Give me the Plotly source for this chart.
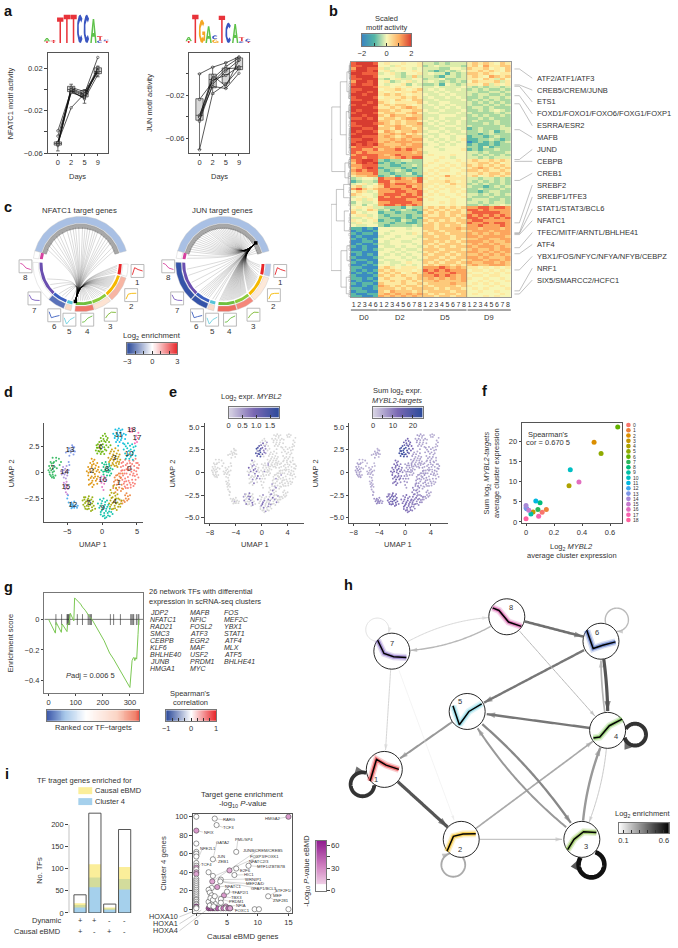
import numpy as np
import plotly.graph_objects as go

W, H = 678, 948
FONT = "Liberation Sans"
INK = "#333333"

# ---------------- panel a
DAYS = ["0", "2", "5", "9"]
NFATC1_LINES = [[-0.052,-0.001,-0.006,0.019],[-0.050,0.001,-0.004,0.016],[-0.053,-0.002,-0.008,0.020],
                [-0.051,0.002,-0.002,0.017],[-0.039,-0.001,-0.009,0.014],[-0.052,0.000,-0.005,0.021],
                [-0.044,-0.003,-0.007,0.018],[-0.050,-0.0172,-0.004,0.0303]]
NFATC1_Q1 = [-0.0525,-0.002,-0.007,0.015]
NFATC1_MED = [-0.051,0.000,-0.004,0.017]
NFATC1_Q3 = [-0.0495,0.003,-0.001,0.0205]
NFATC1_LO = [-0.058,-0.003,-0.013,0.012]
NFATC1_HI = [-0.050,0.005,0.000,0.022]
JUN_LINES = [[-0.0006,0.0055,0.0095,0.015],[-0.043,-0.005,0.006,0.014],[-0.040,-0.012,-0.014,0.000],
             [-0.0385,-0.006,-0.002,0.006],[-0.044,-0.010,0.002,0.012],[-0.070,-0.0185,-0.010,0.004],
             [-0.040,-0.002,-0.012,0.012],[-0.024,-0.008,0.004,0.005]]
JUN_Q1 = [-0.043,-0.0133,-0.009,0.0033]
JUN_MED = [-0.0385,-0.0058,-0.0012,0.006]
JUN_Q3 = [-0.0233,-0.0009,0.0048,0.014]
JUN_LO = [-0.0697,-0.019,-0.014,0.0033]
JUN_HI = [-0.0006,0.0055,0.010,0.0147]
LOGO_NFATC1 = [[("T",.12),("A",.22)],[("T",.10),("T",.10)],[("T",1.75)],[("T",1.95)],[("T",1.95)],
               [("C",1.95)],[("C",1.95)],[("A",1.65)],[("C",.18),("T",.28)],[("T",.14),("C",.1)]]
LOGO_JUN = [[("T",.14),("A",.28)],[("T",1.95)],[("G",1.60)],[("A",1.15)],[("G",.25),("C",.28)],
            [("T",1.88)],[("C",1.40)],[("A",1.30)],[("C",.12),("T",.28)],[("T",.08),("C",.22)]]
LOGO_COLORS = {"A": "#5fc24a", "C": "#3a55c0", "G": "#f5a623", "T": "#e8333a"}

# ---------------- panel b
MOTIF_ROWS = """89998 45445445 33232333 56565465
88999 44354445 23433332 56475566
79988 53445434 33322443 65564546
89989 45344454 32123234 55656546
99888 34532445 34331323 66565455
89998 44432363 33213323 56547656
88999 32453344 23342233 55465364
79989 45234534 34323232 46555635
89889 43445243 22314323 55463545
99998 55454544 33433334 32323323
88999 45565456 34343343 23232232
89989 54545565 33434333 33223323
99899 56565455 43343433 32332232
89998 45556565 34334343 22323323
88999 55465466 33433334 23232322
99989 65455556 43344333 32323232
89899 56566545 34343433 32232323
99998 55656765 33434343 23323222
98999 66565566 43343334 22323432
89998 56655675 34433343 32222323
99899 65766566 33344433 23232232
88989 56656776 34343334 22323222
99999 66565665 43434343 23222322
89998 76565667 34343343 22232322
88999 56676566 33434433 32222232
99889 66576656 43343343 12322233
98998 57656676 34434334 22323123
89999 66767565 43343433 22123222
99888 67656766 34344344 12212322
88998 66767677 43434345 11223212
89988 67677766 44343434 01212123
98989 76667677 34434344 12112122
78887 77676777 44344444 22131222
88778 67787876 44434445 12122322
87877 77777767 34444444 33232223
78888 76787777 45444544 32323232
88788 77678788 44454344 33232333
78998 21223322 44544454 56556565
68989 12121222 45445445 55665645
77888 22112232 54454545 65656565
67898 12221212 44545454 56765656
78788 21232122 45455445 66565565
67778 22122312 54544454 55656656
56677 12312221 45457545 56456565
23443 87787678 54545555 33233232
12332 88677768 45556545 32323232
34534 78788777 55454655 23232232
56345 68777867 54545545 32212323
78656 77887787 45454554 22322232
46534 77788778 54544545 22123322
65443 78887878 45454454 33232323
34543 87878887 54445445 32223222
45354 88888778 45444544 23332232
24334 77888877 44454544 33232332
34243 78878787 44444544 22323343
45453 32221322 56565656 77887887
53465 23123212 65656565 88787777
64344 12212221 56565665 78888877
45534 21222122 65565656 87878787
33454 22112121 56666565 88787878
54345 12213212 65656566 78877777
35443 22122112 56566656 87787887
43344 21222232 66565665 77877787
11010 44444344 66566676 77677767
01001 44344444 56656665 67776777
10110 43444354 65665666 76767677
01000 34434443 66566566 77677776
10101 44344434 56666565 66776677
00110 43443344 66565656 77767667
01001 33444434 65656665 67676766
10100 43343443 56566566 76777676
00101 34434334 66656665 67667677
11000 44343443 56566566 77676767
01010 43434344 65665656 66767676
10001 34443434 56656566 77676667
01100 43344343 66565665 67767767
10010 34334544 65656656 76677676
00101 44343434 56566565 67667776
11000 56545554 77787676 55454545
10101 65655545 87878777 45545454
01010 56564565 78777877 54454545
10001 65656556 77878767 45545544
11010 56555656 67676767 54454454
01001 55656565 66766667 44545445
10110 65556556 56666766 45454544
00101 76565665 65666656 54445454
11001 66656566 66565665 45454445
01100 65766656 56666566 44544544
10011 67676767 65656656 45444454
11001 76767676 66566566 44454544""".split("\n")
SAMPLE_LABELS = ["1","2","3","4","6"] + ["1","2","3","4","5","6","7","8"]*3
MOTIF_NAMES = ["ATF2/ATF1/ATF3","CREB5/CREM/JUNB","ETS1","FOXD1/FOXO1/FOXO6/FOXG1/FOXP1","ESRRA/ESR2","MAFB",
               "JUND","CEBPB","CREB1","SREBF2","SREBF1/TFE3","STAT1/STAT3/BCL6","NFATC1",
               "TFEC/MITF/ARNTL/BHLHE41","ATF4","YBX1/FOS/NFYC/NFYA/NFYB/CEBPZ","NRF1","SIX5/SMARCC2/HCFC1"]
MOTIF_ROW_POS = [2.7,8.8,9.3,12.9,16,25.9,37.3,38,45.3,61.5,65.3,65.6,66,71,73.3,79.5,87.5,88.7]
DEND = [(62,234,560,58,60),(58,136,331,32,18),(32,60,220,12,14),(12,30,90,5,6),(14,150,280,6,5),(5,10,50,1,2),
        (6,75,110,2,1),(6,130,170,2,1),(5,200,260,1,2),(18,305,350,6,8),(6,295,320,2,1),(8,335,370,2,1),
        (60,430,630,44,30),(44,385,480,22,20),(22,370,410,8,6),(20,450,510,6,5),(30,570,680,12,14),
        (12,555,600,3,4),(14,650,700,4,3)]
DEND_LEAF = [3,12,21,28,38,47,58,66,78,86,95,104,118,127,138,147,158,166,178,188,198,207,216,228,238,248,258,268,
             276,288,300,308,316,326,338,346,358,366,378,388,398,408,418,428,440,458,468,478,488,498,506,518,528,
             540,552,562,576,586,596,610,620,632,644,656,668,678,690,702]

# ---------------- panel c
SECTOR_START = [-74,90,107,141,163.6,191.7,201,223,277]
SECTOR_END = [74,105,139,162.6,187,199.5,222,272,286]
SECTOR_COLORS = ["#a8a8a8","#e8262a","#f5b800","#8ccb3c","#6fbf3f","#55c4d8","#3b5fc0","#6a4fb0","#d6409f"]
RING_NFATC1 = ["#a9c0e4","#ffffff","#f7b5a3","#fde3d2","#f0776a","#fbd9c5","#5a72ba","#ffffff","#ffffff"]
RING_JUN = ["#a9c0e4","#b4c8ea","#fde8d8","#f5877a","#ee6d60","#fbdcca","#3553a8","#3553a8","#ffffff"]
NFATC1_TARGETS = [-66,-60,-55,-47,-41,-36,-30,-22,-17,-12,-8,-3,3,7,11,15,20,24,28,35,40,45,50,55,62,68,
                  92,94,97,100,103,108,110,112,114,116,118,120,122,124,126,128,130,133,136,138,
                  143,146,149,152,155,158,161,165,168,171,174,177,180,184,194,205,210,216,228,236,246]
JUN_TARGETS = [-70,-66,-62,-58,-54,-50,-46,-42,-38,-34,-30,-26,-23,-20,-17,-14,-11,-8,-5,-2,1,4,7,10,13,16,19,22,25,28,31,
               34,37,40,43,46,49,52,60,64,68,72,92,95,99,103,108,111,113,115,117,119,121,123,125,127,129,131,133,135,137,
               142,144,146,148,150,152,154,156,158,160,162,164,166,168,170,172,174,176,178,180,182,184,186,193,197,
               203,206,209,212,215,218,221,230,240,252,262,279,284]
ICON_X = [134.7,128.3,107.7,84,66,50.7,30.7,21.7]
ICON_Y = [271.7,296,315.7,320.7,320.7,316.3,299.3,267]

# ---------------- cluster profiles (panels c and h)
PROFILES = {1:[35,-30,-13,0],2:[36,-9,-16,-17],3:[31,0,-23,-21],4:[23,20,-14,-34],5:[-17,40,0,-23],
            6:[-33,22,12,2],7:[-33,7,17,19],8:[-27,-19,16,29]}
PROFILE_TIME = [0,2,5,9]
CLUSTER_COLORS = {1:"#e8262a",2:"#f5b800",3:"#7cb82f",4:"#6bbf3f",5:"#6fd0e0",6:"#3b5fc0",7:"#7a5cc0",8:"#d6409f"}

# ---------------- panels d,e
CLUSTER_HUES = ["#F8766D","#EC8239","#DB8E00","#C79800","#AEA200","#8FAA00","#64B200","#2BB65A","#00BD7C","#00BFA5",
                "#00BFC4","#00B8E0","#3FA8F0","#7C96E8","#A98AD8","#C77CCF","#E26EC0","#F863B0","#FF629F"]
UMAP_0 = [(3.0,1.0,0,6),(3.4,.7,0,5),(3.9,1.1,0,7),(4.3,.8,0,6),(4.8,1.3,0,5),(5.1,.9,0,6),(2.7,.5,0,7),(3.2,.2,0,5),(3.7,.5,0,6),(4.2,.3,0,5),(4.6,.6,0,6),(5.2,.4,0,7),(2.6,-.1,0,6),(3.0,-.3,.4,8),(3.5,-.1,0,5),(4.0,-.2,0,7),(4.5,-.1,0,6),(5.0,-.2,0,5),(2.9,-.7,0,6),(3.3,-.6,0,7),(3.8,-.8,0,5),(4.3,-.7,0,6),(4.8,-.7,0,6),(3.1,-1.1,0,7),(3.6,-1.2,0,5),(4.1,-1.2,0,6),(4.5,-1.3,0,5),(3.4,-1.5,0,6),(2.8,.9,0,5),(4.6,.2,0,7),(3.6,.85,0,6),(4.9,.1,0,6),(3.5,.3,0,5),(4.1,.6,0,6),(3.2,-.9,0,6),(4.4,-1.0,0,5),
           (2.9,.2,0,6),(3.3,1.2,0,5),(3.7,.2,0,7),(4.0,.9,0,5),(4.5,1.1,0,6),(4.9,.9,0,5),(5.3,.7,0,6),(2.7,-.5,0,6),(3.2,-.1,0,7),(3.7,-.45,0,5),(4.2,.05,0,6),(4.7,-.35,0,5),(5.2,-.5,0,6),(3.0,.6,0,6),(3.45,-.85,0,5),(3.95,-1.0,0,6),(4.7,-1.1,0,5),(3.7,-1.5,0,6),(4.1,-1.45,0,5),(5.0,.45,0,6),(2.75,.15,0,7),(4.4,-.3,0,6),(3.85,.3,0,5),(3.25,-1.35,0,6)]
UMAP_1 = [(2.0,-.3,0,7),(2.4,-.1,0,6),(2.2,-.7,.5,8),(1.7,-.9,0,7),(2.5,-.8,0,5),(2.1,-1.2,0,7),(2.8,-1.2,0,6),(1.6,-1.5,0,8),(2.2,-1.7,.6,9),(2.7,-1.8,0,6),(3.0,-1.6,0,5),(1.9,-1.9,0,6),(3.3,-2.2,0,7),(3.7,-2.3,0,6),(4.0,-2.2,0,5),(3.1,-2.7,0,7),(3.6,-2.7,0,6),(2.9,-3.0,0,5),(3.4,-2.5,0,6),(2.5,-.4,0,5),(2.9,-.1,0,6),(1.8,-.5,0,7),
           (2.2,-.25,0,6),(1.9,-.75,0,7),(2.35,-1.0,0,6),(2.65,-.55,0,6),(1.75,-1.2,0,8),(2.45,-1.45,0,6),(2.0,-1.55,.7,8),(2.85,-1.55,0,5),(3.5,-2.0,0,6),(3.8,-2.55,0,5),(3.25,-2.85,0,6),(2.75,-2.75,0,7)]
UMAP_2 = [(-1.5,1.3,.8,12),(-1.1,1.2,0,10),(-1.7,.9,0,11),(-1.2,.8,.5,13),(-.7,.9,0,9),(-2.0,.5,.9,12),(-1.5,.5,0,11),(-1.0,.4,.6,14),(-.5,.5,0,10),(-2.2,.1,0,12),(-1.7,.1,.7,13),(-1.3,.0,0,11),(-.8,.1,.8,12),(-.4,.0,0,9),(-2.0,-.3,.5,13),(-1.5,-.4,0,11),(-1.0,-.4,0,12),(-.6,-.4,.9,10),(-1.9,-.7,0,11),(-1.4,-.8,.6,14),(-.9,-.8,0,12),(-1.7,-1.1,0,10),(-1.2,-1.2,.7,11),(-1.4,-1.4,0,12),(-1.9,-1.2,0,9),(-.7,-1.1,0,8),
           (-1.3,1.05,0,11),(-1.45,.7,.6,13),(-.9,.65,0,10),(-1.8,.3,0,12),(-1.25,.25,.9,14),(-.6,.25,0,9),(-1.95,-.05,0,11),(-1.05,-.15,.7,13),(-1.65,-.55,0,12),(-1.2,-.55,0,11),(-.75,-.65,.6,11),(-1.5,-1.0,0,12)]
UMAP_3 = [(1.4,2.2,0,6),(1.9,2.3,0,5),(2.3,2.1,0,7),(1.1,1.8,0,7),(1.6,1.7,0,6),(2.1,1.8,0,5),(2.5,1.7,0,6),(.9,1.4,0,6),(1.3,1.3,0,7),(1.8,1.3,0,5),(2.2,1.3,0,6),(2.6,1.2,0,5),(1.0,1.0,.4,7),(1.5,.9,0,6),(2.0,.9,0,5),(2.4,.8,0,6),(1.3,.65,0,6),(1.8,.6,0,5),(2.2,.5,0,7),(1.7,2.0,0,6),
           (1.25,2.0,0,6),(1.45,1.5,0,6),(1.95,1.55,0,5),(2.35,1.5,0,6),(1.15,1.15,0,6),(1.65,1.1,0,5),(2.2,1.05,0,6),(1.6,.75,0,6),(2.05,.65,0,5),(2.45,1.0,0,6)]
UMAP_4 = [(1.6,-1.3,.5,8),(2.0,-1.5,0,7),(1.2,-1.7,0,9),(1.7,-2.0,.7,10),(2.2,-2.1,0,8),(1.1,-2.2,0,9),(1.5,-2.4,.8,11),(2.0,-2.5,0,8),(2.5,-2.6,.6,9),(1.2,-2.7,0,10),(1.7,-2.8,.9,12),(2.2,-2.9,0,9),(2.7,-3.0,0,7),(1.3,-3.1,.5,11),(1.8,-3.2,0,9),(2.3,-3.3,.7,10),(1.6,-3.5,0,9),(2.1,-3.6,0,8),(2.8,-2.7,0,7),(1.0,-3.0,.8,12),(2.6,-3.3,0,8),(1.4,-3.55,.6,10),
           (1.35,-1.95,0,9),(1.9,-2.25,0,9),(1.35,-2.45,.6,10),(1.85,-2.6,0,9),(2.3,-2.5,0,8),(1.5,-2.95,0,10),(2.0,-3.0,.6,10),(2.45,-3.05,0,8),(1.15,-3.3,0,10),(1.85,-3.45,0,9)]
UMAP_5 = [(-2.4,-2.4,0,10),(-1.9,-2.3,.8,13),(-1.4,-2.4,0,11),(-2.8,-2.7,.5,12),(-2.3,-2.8,0,14),(-1.8,-2.7,.9,15),(-1.3,-2.8,0,12),(-2.7,-3.1,.7,11),(-2.2,-3.2,0,14),(-1.7,-3.1,.6,16),(-1.2,-3.2,0,13),(-2.4,-3.5,.8,12),(-1.9,-3.5,0,14),(-1.4,-3.6,.7,13),(-1.0,-3.5,0,10),(-2.0,-2.5,0,12),(-1.6,-3.7,0,12),(-2.6,-2.4,.5,9),
           (-2.55,-2.6,0,11),(-2.1,-2.65,.7,14),(-1.55,-2.6,0,13),(-2.45,-2.95,0,13),(-1.95,-2.95,1.1,17),(-1.45,-3.0,0,13),(-2.5,-3.3,0,11),(-1.95,-3.25,0,14),(-1.45,-3.35,.9,14),(-2.15,-3.55,0,13)]
UMAP_6 = [(.4,3.7,0,13),(.8,3.3,.5,14),(.2,3.2,.9,15),(-.2,3.3,0,14),(.5,2.9,.6,17),(1.0,2.9,0,12),(-.4,2.9,1.2,18),(.1,2.7,.9,20),(-.8,2.6,1.5,19),(-.3,2.4,1.4,22),(.3,2.4,.7,18),(.9,2.4,0,13),(-.9,2.1,1.3,21),(-.4,2.0,1.6,23),(.1,2.0,1.1,20),(.6,2.1,.5,15),(-.7,1.8,1.0,19),(-.2,1.75,1.4,21),(.3,1.75,0,16),(1.2,2.6,0,12),(-.6,2.35,1.1,20),(.7,3.1,0,13),
           (.1,3.5,0,14),(.55,3.45,0,13),(-.1,3.0,1.0,17),(.3,3.0,0,15),(-.6,2.7,1.3,20),(-.15,2.6,1.2,21),(.6,2.6,.6,16),(-.75,2.35,0,20),(-.2,2.2,1.5,22),(.4,2.2,.8,17),(-.55,2.05,1.2,21),(-.1,1.95,0,19)]
UMAP_7 = [(-7.1,1.4,0,5),(-6.6,1.4,0,4),(-6.2,1.3,0,5),(-5.9,1.0,0,3),(-7.4,1.0,0,6),(-6.9,1.0,0,7),(-7.6,.6,0,7),(-7.2,.6,0,6),(-6.8,.5,0,5),(-7.7,.2,0,6),(-7.3,.2,0,7),(-6.9,.1,0,5),(-6.5,.4,0,4),(-7.5,-.2,0,5),(-7.1,-.2,0,6),(-6.7,-.3,0,4),(-7.2,-.5,0,5),(-6.9,-.55,0,6),(-7.0,.9,0,5),(-6.1,.7,0,3),
           (-7.25,.85,0,6),(-7.45,.4,0,7),(-7.05,.35,0,6),(-7.55,.0,0,6),(-7.1,.0,0,5),(-7.35,-.35,0,6),(-6.6,1.1,0,4),(-7.0,-.4,0,5)]
UMAP_8 = [(.0,.9,0,6),(.5,1.0,0,7),(1.0,.8,.5,8),(.2,.5,0,6),(.7,.5,0,7),(1.2,.4,0,5),(1.5,.3,0,6),(-.1,.2,0,7),(.4,.1,.6,8),(.9,.0,0,6),(1.3,-.1,0,6),(.2,-.2,0,7),(.7,-.3,0,6),(1.1,-.3,0,5),(.3,.75,0,7),(.9,.25,0,6),
           (.6,.75,0,7),(.45,.3,0,7),(1.05,.6,0,6),(.15,.05,0,7),(.65,.05,0,6),(1.1,.15,0,6)]
UMAP_9 = [(-.3,-2.6,0,9),(.2,-2.5,.6,12),(.7,-2.7,0,10),(-.6,-3.0,.8,11),(-.1,-3.0,0,12),(.4,-3.1,.7,13),(.9,-3.1,0,10),(-.4,-3.4,0,11),(.1,-3.5,.9,14),(.6,-3.5,0,12),(1.1,-3.5,.5,10),(-.2,-3.8,0,12),(.3,-3.9,.7,13),(.8,-3.9,0,11),(1.3,-3.8,0,9),(.1,-4.2,0,11),(.6,-4.3,.6,12),(1.1,-4.2,0,10),(1.5,-4.0,0,9),(.4,-4.4,0,10),
           (.0,-2.75,0,11),(.45,-2.85,0,11),(-.25,-3.2,0,11),(.2,-3.3,.8,13),(.75,-3.3,0,11),(-.05,-3.65,.7,13),(.55,-3.7,0,12),(1.0,-3.75,.6,11),(.3,-4.15,0,12),(.85,-4.15,0,11),(-.2,-4.05,0,11)]
UMAP_10 = [(3.2,2.7,0,7),(3.7,2.8,0,6),(4.3,2.7,0,5),(4.8,2.5,0,6),(3.1,2.2,0,6),(3.6,2.3,0,7),(4.1,2.2,0,6),(4.6,2.1,0,5),(3.3,1.8,0,5),(3.8,1.7,0,6),(4.3,1.7,0,7),(4.8,1.6,0,5),(3.4,1.3,0,6),(3.9,1.3,0,5),(4.4,1.2,0,6),
            (3.4,2.5,0,6),(4.0,2.55,0,6),(4.5,2.4,0,5),(3.85,2.05,0,6),(4.4,1.95,0,6),(3.55,1.55,0,6),(4.1,1.5,0,6)]
UMAP_11 = [(1.9,4.1,0,7),(2.4,4.2,0,6),(2.9,4.1,0,5),(1.6,3.7,0,6),(2.1,3.7,0,7),(2.6,3.8,0,5),(3.1,3.7,0,6),(1.8,3.3,0,7),(2.3,3.3,0,6),(2.8,3.3,0,5),(3.3,3.2,0,5),(2.0,2.9,0,6),(2.5,2.9,0,5),(3.0,2.8,0,6),(2.3,2.55,0,6),(3.4,3.6,0,4),
            (2.2,4.0,0,6),(2.65,4.0,0,5),(1.85,3.5,0,7),(2.35,3.55,0,6),(2.85,3.55,0,6),(2.2,3.1,0,6),(2.7,3.1,0,5)]
UMAP_12 = [(-5.0,-2.5,0,7),(-4.8,-2.9,0,8),(-4.4,-2.9,0,9),(-4.0,-2.8,0,8),(-4.6,-3.2,0,9),(-4.2,-3.2,.4,10),(-3.8,-3.1,0,8),(-3.5,-3.2,0,7),(-4.4,-3.45,0,9),(-4.0,-3.4,0,8),(-4.9,-2.2,0,6),(-3.6,-3.4,0,7),(-4.2,-3.05,0,9),(-4.5,-3.05,0,8),(-3.95,-3.25,0,8),(-4.25,-3.35,0,8)]
UMAP_13 = [(-4.3,2.6,0,4),(-4.0,2.4,0,5),(-4.7,2.3,0,5),(-4.3,2.2,0,6),(-3.9,2.0,0,4),(-4.9,2.0,0,5),(-4.5,1.9,0,5),(-5.2,1.9,0,4),(-4.1,1.7,0,4),(-4.7,1.6,0,5),(-4.8,1.0,0,3),(-4.7,.7,0,3),(-4.2,2.45,0,5),(-4.55,2.1,0,5),(-4.15,2.05,0,5)]
UMAP_14 = [(-5.6,.5,0,4),(-5.1,.6,0,5),(-5.9,.1,0,4),(-5.5,.2,0,5),(-5.1,.1,0,6),(-4.8,.2,0,4),(-5.8,-.2,0,5),(-5.4,-.2,0,5),(-5.0,-.3,0,4),(-5.5,-.5,0,4),(-5.2,-.6,0,5),(-5.3,.35,0,5),(-5.65,-.05,0,4),(-5.25,-.05,0,5)]
UMAP_15 = [(-5.5,-1.0,0,4),(-5.1,-.9,0,5),(-5.4,-1.3,0,5),(-5.0,-1.3,0,4),(-5.3,-1.6,0,6),(-4.9,-1.6,0,5),(-5.2,-1.9,0,5),(-5.0,-2.1,0,4),(-5.25,-1.15,0,5),(-5.15,-1.45,0,5)]
UMAP_16 = [(-.1,-.4,0,8),(.3,-.4,0,7),(-.3,-.7,.5,9),(.1,-.7,0,8),(.5,-.7,0,7),(-.1,-1.0,0,8),(.3,-1.1,0,7),(.0,-1.4,0,7),(.2,-1.7,0,6)]
UMAP_17 = [(5.2,3.8,0,5),(4.9,3.5,0,5),(5.1,3.3,0,6),(4.8,3.1,0,4),(5.0,2.9,0,5),(4.7,2.8,0,4)]
UMAP_18 = [(3.9,4.1,0,5),(4.2,4.2,0,4),(4.5,4.1,0,5),(4.0,3.9,0,4),(4.3,3.9,0,5)]
UMAP_ALL = [UMAP_0,UMAP_1,UMAP_2,UMAP_3,UMAP_4,UMAP_5,UMAP_6,UMAP_7,UMAP_8,UMAP_9,UMAP_10,UMAP_11,UMAP_12,UMAP_13,UMAP_14,UMAP_15,UMAP_16,UMAP_17,UMAP_18]
UMAP_LABEL_X = [3.9,2.4,-1.5,1.75,1.8,-1.9,-.2,-7.1,.7,.1,3.9,2.4,-4.2,-4.6,-5.4,-5.2,.1,5.0,4.2]
UMAP_LABEL_Y = [.3,-1.0,.1,1.35,-2.8,-2.9,2.4,.4,.35,-3.4,1.8,3.6,-3.1,2.1,0,-1.4,-.7,3.3,4.05]

# ---------------- panel f
F_X = [.115,.145,.486,.05,.307,.536,.655,.085,.10,.035,.316,.07,.005,.0,.0,.02,.378,.09,.0]
F_Y = [2.4,3.1,19.8,2.5,9.0,17.0,23.6,3.1,4.8,2.0,13.0,5.2,3.3,3.5,4.1,2.9,9.9,1.4,.8]

# ---------------- panel g
G_RANK = [0,25,28,47,50,68,70,75,80,93,96,110,118,125,135,150,160,205,225,240,300,308,313,316,318,322,325,330,333]
G_ES = [0,-.09,-.02,-.085,-.03,-.08,-.03,-.03,.04,-.01,.14,.115,.10,.08,.06,.02,0,-.14,-.22,-.26,-.445,-.27,-.25,-.25,-.27,-.25,-.26,-.10,0]
G_HITS = [27,48,68,70,73,75,78,106,125,146,150,155,158,228,240,265,303,307,311,314,324,330,333]
G_TF_1 = ["JDP2","NFATC1","RAD21","SMC3","CEBPB","KLF6","BHLHE40","JUNB","HMGA1"]
G_TF_2 = ["MAFB","NFIC","FOSL2","ATF3","EGR2","MAF","USF2","PRDM1","MYC"]
G_TF_3 = ["FOS","MEF2C","YBX1","STAT1","ATF4","MLX","ATF5","BHLHE41"]

# ---------------- panel h
NODE_X = {1:383.7,2:461.3,3:583,4:609,5:467.3,6:602.3,7:391.3,8:507.3}
NODE_Y = {1:773.3,2:843.7,3:843.7,4:734,5:715,6:644.3,7:654.3,8:619.7}
NODE_TEXT_DX = {1:-8,2:-1,3:4,4:8,5:-7,6:-4,7:0,8:4}
NODE_TEXT_DY = {1:10,2:10,3:7,4:6,5:-10,6:-9,7:-8,8:-9}
EDGES = [(7,8,.15,1.0,"#d8d8d8"),(8,7,.15,1.4,"#b8b8b8"),(8,6,0,2.6,"#707070"),(6,5,0,2.4,"#777777"),(6,4,.05,3.2,"#555555"),
         (4,6,.05,1.7,"#b5b5b5"),(8,4,0,1.0,"#b8b8b8"),(4,5,0,2.4,"#777777"),(5,1,0,2,"#999999"),(7,1,0,1.0,"#d5d5d5"),
         (7,2,0,.5,"#e8e8e8"),(1,2,0,3.2,"#555555"),(2,4,0,1.7,"#aaaaaa"),(2,3,0,1.4,"#c5c5c5"),(3,4,.1,2.4,"#999999"),
         (4,3,.1,1.0,"#c8c8c8"),(5,3,.08,2.3,"#888888"),(3,5,.1,2,"#999999")]
LOOPS = [(7,376.7,632.7,11.7,.9,"#dddddd"),(6,618.3,622.7,11.7,1.4,"#bbbbbb"),(4,636.7,738.3,11,4,"#333333"),
         (1,361.7,788.3,12,3.8,"#333333"),(2,453.3,869.3,12,1.9,"#aaaaaa"),(3,592.7,869,13,4.6,"#111111")]

# ---------------- panel i
BAR_TOTAL = [41,226,20,189]
BAR_CAUSAL = [22,110,12,104]
BAR_OVERLAP = [18,80,10,77]
BAR_CLUSTER4 = [12,58,7,53]
SIGN_DYNAMIC = ["+","+","-","-"]
SIGN_CAUSAL = ["+","-","+","-"]
SC_X = [0,0,0,0,0,0,0,0,0,0,0,0,0,0,0,0,0,0,0,0,0,0,0,0,0,0,0,0,0,0,0, 15,3,3.3,6.5,2.7,2,2.7,2.6,5.4,6.5,6.2,8.5,4,3.9,3.4,2.5,2,2.2,2.5,4.5,5,4,2,3,4,4.8,5.5,9.5,10.2,15,11.7, 2,2.3,2.6,2.9,3.2,3.5,4,4.4,4.8,5.2,5.5,2.3,2.7,3,2.5,2.2,2.8]
SC_Y = [100,85,71,62,60,57,50,47,45,43,40,38,33,31,29,27,25,23,21,19,17,15,13,11,10,8,6,5,3,2,1, 100,98,91,62,54,40,36,30,42,44,37,47,32,30,24,23,21,18,15,15,19,11,8,6,7,3,1,0,0,0,14, 1,1,1,1,1,1,1,1,1,1,1,12,10,14,5,4,3]
SC_P = [0,25,0,0,0,0,0,0,22,0,20,22,0,0,0,0,0,0,0,0,0,0,0,0,0,0,0,0,55,0,0, 25,0,0,0,0,0,0,22,20,0,0,0,0,0,25,0,0,0,0,25,0,0,0,0,0,20,22,0,0,0,0, 45,50,30,55,0,45,0,35,0,40,22,0,0,0,0,0,0]
SC_NAMES = ["RARG","TCF3","NFIX","HMGA2","GATA2","NFE2L1","PML/SP4","JUNB/CREM/CREB5","JUN","ZEB1","FOXP3/FOXK1","NFATC2/3",
            "MTF1/ZBTB7B","TCF4","E2F6","HIC1","WRNIP1","MEF2A/D","GFAP1/BCL3","NFATC1","TFAP2/1","STF2F1/","MEF","ZNF281","TBX3","PRDM1","NFIA","FOXC1"]
SC_NAME_X = [232,231,170,363,212,168,276,335,208,213,337,321,357,162,282,293,305,311,337,242,266,396,378,387,255,255,268,272]
SC_NAME_Y = [297,320,334,293,367,385,357,390,409,422,409,423,439,431,449,463,476,490,504,497,517,512,525,540,532,545,556,570]
SC_NAME_PX = [3,3.3,0,15,2.7,0,6.5,2.6,2.7,2.7,3,8.5,8.5,0,6.5,6.2,4,3.9,3.9,3.4,5,11.7,11.7,11.7,2.5,4,4.8,5.5]
SC_NAME_PY = [98,91,85,100,54,50,62,30,54,54,36,47,47,40,44,37,32,30,30,24,19,14,14,14,15,11,3,1]

# ================================ layout helpers
fig = go.Figure()
layout = dict(width=W, height=H, margin=dict(l=0, r=0, t=0, b=0), paper_bgcolor="white", plot_bgcolor="rgba(0,0,0,0)",
              showlegend=False, font=dict(family=FONT, size=8, color=INK), annotations=[], hovermode=False)
axis_no = [0]

def new_axes(x0, y0, x1, y1, xr, yr, xa=None, ya=None):
    axis_no[0] += 1
    n = axis_no[0]
    sx = "" if n == 1 else str(n)
    base = dict(showgrid=False, zeroline=False, showline=False, showticklabels=False, ticks="", fixedrange=True,
                tickfont=dict(size=7.5, color=INK, family=FONT), tickcolor="#444", ticklen=2.5, tickwidth=.6, linecolor="#555", linewidth=.8,
                tickangle=0)
    xd = dict(base); xd.update(domain=[x0/W, x1/W], range=xr, anchor="y"+sx); xd.update(xa or {})
    yd = dict(base); yd.update(domain=[1-y1/H, 1-y0/H], range=yr, anchor="x"+sx); yd.update(ya or {})
    layout["xaxis"+sx] = xd
    layout["yaxis"+sx] = yd
    return "x"+sx, "y"+sx

def T(x, y, text, size=7.5, color=INK, anchor="center", rot=0, bold=False):
    layout["annotations"].append(dict(x=x/W, y=1-y/H, xref="paper", yref="paper", text=text, showarrow=False,
        xanchor=anchor, yanchor="middle", textangle=rot, align=anchor,
        font=dict(family=FONT, size=size, color=color, weight="bold" if bold else "normal"), borderpad=0, borderwidth=0))

def tick(vals, texts=None, where="outside", tlen=2.5, tcol="#444"):
    texts = texts if texts else [str(v) for v in vals]
    major = [(v, t) for v, t in zip(vals, texts) if t]
    minor = [v for v, t in zip(vals, texts) if not t]
    d = dict(showticklabels=True, ticks=where, ticklen=tlen, tickcolor=tcol, tickmode="array",
             tickvals=[m[0] for m in major], ticktext=[m[1] for m in major])
    if minor:
        d["minor"] = dict(tickmode="array", tickvals=minor, ticks=where, ticklen=tlen, tickcolor=tcol, tickwidth=.6, showgrid=False)
    return d

def frame(col="#555"):
    return dict(showline=True, mirror=True, linecolor=col, linewidth=.9)

def cbar(x0, y0, x1, y1, scale, vmin, vmax, vals, texts, vertical=False):
    grad = np.linspace(vmin, vmax, 100)
    lc = dict(showline=True, mirror=True, linecolor="#777", linewidth=.9)
    if vertical:
        xa, ya = new_axes(x0, y0, x1, y1, [0, 1], [vmin, vmax], xa=lc, ya=dict(lc, side="right", **tick(vals, texts)))
        fig.add_trace(go.Heatmap(z=grad.reshape(-1, 1), y=grad, x=[.5], colorscale=scale, zmin=vmin, zmax=vmax, showscale=False, xaxis=xa, yaxis=ya))
    else:
        xa, ya = new_axes(x0, y0, x1, y1, [vmin, vmax], [0, 1], ya=lc, xa=dict(lc, **tick(vals, texts, "inside", 3, "#333")) if len(vals) else lc)
        fig.add_trace(go.Heatmap(z=grad.reshape(1, -1), x=grad, y=[.5], colorscale=scale, zmin=vmin, zmax=vmax, showscale=False, xaxis=xa, yaxis=ya))

# overlay in page pixels (axis 1) used for diagrams
PX, PY = new_axes(0, 0, W, H, [0, W], [H, 0])

def L(xs, ys, color="#777", width=.6, dash=None, xa=PX, ya=PY, opacity=None):
    fig.add_trace(go.Scatter(x=list(xs), y=list(ys), mode="lines", xaxis=xa, yaxis=ya, opacity=opacity,
                             line=dict(color=color, width=width, dash=dash, simplify=False), hoverinfo="skip"))

def poly(xs, ys, fill, line=None, lw=0, xa=PX, ya=PY):
    fig.add_trace(go.Scatter(x=list(xs), y=list(ys), mode="lines", fill="toself", fillcolor=fill, xaxis=xa, yaxis=ya,
                             line=dict(color=line or fill, width=lw), hoverinfo="skip"))

# ================= panel a
def glyph(letter, x, y, w, h, color, xa, ya):
    if letter == "T":
        gx = [0,1,1,.62,.62,.38,.38,0]; gy = [1,1,.84,.84,0,0,.84,.84]
        poly([x+w*v for v in gx], [y+h*v for v in gy], color, xa=xa, ya=ya)
    elif letter == "A":
        gx = [0,.38,.62,1,.76,.67,.33,.24]; gy = [0,1,1,0,0,.26,.26,0]
        poly([x+w*v for v in gx], [y+h*v for v in gy], color, xa=xa, ya=ya)
        hx = [.5,.41,.59]; hy = [.8,.42,.42]
        poly([x+w*v for v in hx], [y+h*v for v in hy], "white", xa=xa, ya=ya)
    else:
        th = np.radians(np.linspace(45, 315, 30))
        ox = .5+.5*np.cos(th); oy = .5+.5*np.sin(th)
        ix = .5+.24*np.cos(th[::-1]); iy = .5+.3*np.sin(th[::-1])
        poly(x+w*np.r_[ox, ix], y+h*np.r_[oy, iy], color, xa=xa, ya=ya)
        if letter == "G":
            gx = [.55,1,1,.78,.78,.55]; gy = [.5,.5,.1,.1,.34,.34]
            poly([x+w*v for v in gx], [y+h*v for v in gy], color, xa=xa, ya=ya)

def logo(x0, x1, y0, y1, data):
    xa, ya = new_axes(x0, y0, x1, y1, [0, len(data)], [0, 2])
    for i, stack in enumerate(data):
        b = 0
        for letter, h in stack:
            glyph(letter, i+.02, b, .96, h, LOGO_COLORS[letter], xa, ya)
            b += h

logo(40, 107, 13, 42.3, LOGO_NFATC1)
logo(183, 250, 13, 42.3, LOGO_JUN)

def motif_panel(x0, x1, yr, lines, q1, med, q3, lo, hi, yvals, ytext):
    xa, ya = new_axes(x0, 52, x1, 153, [-.77, 3.77], yr, xa=dict(frame(), **tick([0,1,2,3], DAYS)), ya=dict(frame(), **tick(yvals, ytext)))
    fig.add_trace(go.Box(x=[0,1,2,3], q1=q1, median=med, q3=q3, lowerfence=lo, upperfence=hi, xaxis=xa, yaxis=ya, width=.55,
                         fillcolor="#d8d8d8", line=dict(color="#333", width=.7), boxpoints=False, hoverinfo="skip"))
    for s in lines:
        fig.add_trace(go.Scatter(x=[0,1,2,3], y=s, mode="lines+markers", xaxis=xa, yaxis=ya, line=dict(color="#111", width=.7),
                                 marker=dict(size=2.5, color="rgba(255,255,255,.4)", line=dict(color="#111", width=.5)), hoverinfo="skip"))

motif_panel(44, 105, [-.06, .0348], NFATC1_LINES, NFATC1_Q1, NFATC1_MED, NFATC1_Q3, NFATC1_LO, NFATC1_HI,
            [.02, 0, -.02, -.04, -.06], ["0.02", "", "−0.02", "", "−0.06"])
motif_panel(187, 247.3, [-.073, .0188], JUN_LINES, JUN_Q1, JUN_MED, JUN_Q3, JUN_LO, JUN_HI,
            [0, -.02, -.04, -.06], ["", "−0.02", "", "−0.06"])
T(6, 103, "NFATC1 motif activity", rot=-90)
T(147, 103, "JUN motif activity", rot=-90)
T(74, 176.7, "Days"); T(217.3, 176.7, "Days")

# ================= panel b
MOTIF_SCALE = [[0,"#3b8cc0"],[.111,"#5cb8a5"],[.222,"#a9d8a0"],[.333,"#dcecaa"],[.444,"#f7f5b5"],[.556,"#fde9a0"],[.667,"#fdc97a"],[.778,"#fca55d"],[.889,"#f0603f"],[1,"#d73c30"]]
COLORBAR_MOTIF = [[0,"#3b84c0"],[.25,"#52b5a5"],[.5,"#f9f7b8"],[.75,"#fdae61"],[1,"#d73c30"]]
matrix = [[int(c) for c in row.replace(" ", "")] for row in MOTIF_ROWS]
hx, hy = new_axes(350, 61.3, 511.3, 298.3, [-.5, 28.5], [len(matrix)-.5, -.5],
                  xa=dict(frame("#999"), showticklabels=True, tickmode="array", tickvals=list(range(29)), ticktext=SAMPLE_LABELS, tickfont=dict(size=7, color=INK, family=FONT), ticks=""),
                  ya=frame("#999"))
fig.add_trace(go.Heatmap(z=matrix, colorscale=MOTIF_SCALE, zmin=0, zmax=9, showscale=False, xaxis=hx, yaxis=hy))
for b in (12.5, 20.5):
    L([b, b], [-.5, len(matrix)-.5], "#777", .6, xa=hx, ya=hy)
dx, dy = new_axes(330, 61.3, 350, 298.3, [60, 0], [711, 0])
for h, y1, y2, h1, h2 in DEND:
    L([h1, h, h, h2], [y1, y1, y2, y2], "#8a8a8a", .5, xa=dx, ya=dy)
for i, y in enumerate(DEND_LEAF):
    hb = 3 + (i % 4)
    L([0, hb, hb, 0], [y, y, y+7, y+7], "#8a8a8a", .45, xa=dx, ya=dy)
row_h = 237/len(matrix)
for i, (name, r) in enumerate(zip(MOTIF_NAMES, MOTIF_ROW_POS)):
    ya_ = 61.3 + r*row_h
    ly = 77.7 + 11.95*i
    L([515, 520, 533], [ya_, ya_, ly], "#777", .45)
    T(538, ly, name, size=7.5, anchor="left")
for x0, x1, cx, name in [(350, 377, 363.7, "D0"), (377.7, 422, 400, "D2"), (423, 466.7, 444.7, "D5"), (467.7, 511.3, 489.3, "D9")]:
    L([x0, x1], [311, 311], "#222", .8)
    T(cx, 318.6, name)
T(386, 17.3, "Scaled"); T(386, 26.7, "motif activity")
cbar(361, 33.3, 411, 45.3, COLORBAR_MOTIF, -2, 2, [-2, -1, 0, 1, 2], ["−2", "", "0", "", "2"])

# ================= panel c
def sector(cx, cy, r0, r1, a0, a1, fill, line=None, lw=0):
    th = np.radians(np.linspace(a0, a1, max(3, int(abs(a1-a0)/2)+2)))
    xs = np.r_[cx+r1*np.sin(th), cx+r0*np.sin(th[::-1])]
    ys = np.r_[cy-r1*np.cos(th), cy-r0*np.cos(th[::-1])]
    poly(np.r_[xs, xs[0]], np.r_[ys, ys[0]], fill, line=line, lw=lw)

def polar(cx, cy, r, a):
    return cx+r*np.sin(np.radians(a)), cy-r*np.cos(np.radians(a))

def chord(cx, rings, title, src, bundle, targets, dotr):
    cy = 264.7
    T(cx-1.3, 211, title, size=7.8)
    for i in range(9):
        if i == 0:
            sector(cx, cy, 41, 48, SECTOR_START[i], SECTOR_END[i], rings[i], line="#c4c4c4", lw=.4)
            sector(cx, cy, 36, 40.2, SECTOR_START[i], SECTOR_END[i], SECTOR_COLORS[i], line="#777777", lw=.4)
        else:
            sector(cx, cy, 42.5, 48, SECTOR_START[i], SECTOR_END[i], rings[i], line="#c4c4c4", lw=.4)
            sector(cx, cy, 38.5, 41.5, SECTOR_START[i], SECTOR_END[i], SECTOR_COLORS[i])
    sx, sy = polar(cx, cy, dotr, src)
    for a in targets:
        tx, ty = polar(cx, cy, 37, a)
        t = np.linspace(0, 1, 24)
        bx = (1-t)**3*sx+3*(1-t)**2*t*bundle[0]+3*(1-t)*t**2*(bundle[0]*.75+.25*tx)+t**3*tx
        by = (1-t)**3*sy+3*(1-t)**2*t*bundle[1]+3*(1-t)*t**2*(bundle[1]*.75+.25*ty)+t**3*ty
        L(bx, by, "rgba(0,0,0,.27)", .55)
    fig.add_trace(go.Scatter(x=[sx], y=[sy], mode="markers", xaxis=PX, yaxis=PY, marker=dict(size=3.5, color="black", symbol="square")))
    for k in range(8):
        c = k+1
        ix, iy = cx-77.3+ICON_X[k], ICON_Y[k]
        L([ix-6.5, ix+6.5, ix+6.5, ix-6.5, ix-6.5], [iy-6.5, iy-6.5, iy+6.5, iy+6.5, iy-6.5], "#aaaaaa", .8)
        px_ = [ix-5.2+10.4*t/9 for t in PROFILE_TIME]
        py_ = [iy+v*.11 for v in PROFILES[c]]
        L(px_, py_, CLUSTER_COLORS[c], .9)
        T(ix, iy+11.7, str(c), size=8)

chord(77.3, RING_NFATC1, "NFATC1 target genes", 188, (77.3, 281), NFATC1_TARGETS, 38)
chord(221.3, RING_JUN, "JUN target genes", 57, (238.3, 258.3), JUN_TARGETS, 39)
T(149, 336.7, "Log<sub>2</sub> enrichment", size=7.8)
cbar(124.3, 344.3, 175, 355, [[0,"#2c4a9a"],[.5,"#ffffff"],[1,"#e8262a"]], -3, 3, [-3,-2,-1,0,1,2,3], ["−3","","","0","","","3"])

# ================= panel d,e
def classic(vx, tx, vy, ty):
    cl = dict(showline=True, linecolor="#555", linewidth=.9)
    return dict(cl, **tick(vx, tx)), dict(cl, **tick(vy, ty))

xa_, ya_ = classic([-5, 0, 5], ["−5", "0", "5"], [-2.5, 0, 2.5], ["−2.5", "0", "2.5"])
dxa, dya = new_axes(40.7, 425, 140, 524.3, [-8.29, 5.83], [-4.76, 4.7], xa=xa_, ya=ya_)
for c, pts in enumerate(UMAP_ALL):
    fig.add_trace(go.Scatter(x=[p[0] for p in pts], y=[p[1] for p in pts], mode="markers", xaxis=dxa, yaxis=dya,
                             marker=dict(size=2, color=CLUSTER_HUES[c], opacity=.9), hoverinfo="skip"))
for c in range(19):
    fig.add_trace(go.Scatter(x=[UMAP_LABEL_X[c]], y=[UMAP_LABEL_Y[c]], mode="text", text=[str(c)], xaxis=dxa, yaxis=dya,
                             textfont=dict(size=8, color="#222", family=FONT), hoverinfo="skip"))
T(89.3, 546.7, "UMAP 1"); T(8.3, 475, "UMAP 2", rot=-90)

pts_all = [p for pts in UMAP_ALL for p in pts]
E_TICK_Y = [-5, -2.5, 0, 2.5, 5]
E_TEXT_Y = ["−5.0", "−2.5", "0", "2.5", "5.0"]
PURPLE = [[0,"#d9d5e4"],[.5,"#7a68b3"],[1,"#2b4a9a"]]
PURPLE0 = [[0,"#d8d8d8"],[.02,"#d9d5e4"],[.5,"#7a68b3"],[1,"#2b4a9a"]]
xa_, ya_ = classic([-8, -4, 0, 4], ["−8", "−4", "0", "4"], E_TICK_Y, E_TEXT_Y)
e1x, e1y = new_axes(202.3, 425, 303, 525, [-8.84, 6.58], [-5.55, 5.4], xa=xa_, ya=ya_)
fig.add_trace(go.Scatter(x=[p[0] for p in pts_all], y=[p[1] for p in pts_all], mode="markers", xaxis=e1x, yaxis=e1y,
                         marker=dict(size=1.9, color=[p[2] for p in pts_all], colorscale=PURPLE0, cmin=0, cmax=1.8), hoverinfo="skip"))
xa_, ya_ = classic([-8, -4, 0, 4], ["−8", "−4", "0", "4"], E_TICK_Y, E_TEXT_Y)
e2x, e2y = new_axes(348.3, 425, 448, 525, [-8.68, 6.66], [-5.55, 5.4], xa=xa_, ya=ya_)
fig.add_trace(go.Scatter(x=[p[0] for p in pts_all], y=[p[1] for p in pts_all], mode="markers", xaxis=e2x, yaxis=e2y,
                         marker=dict(size=1.9, color=[p[3] for p in pts_all], colorscale=PURPLE, cmin=0, cmax=25), hoverinfo="skip"))
T(250, 399, "Log<sub>2</sub> expr. <i>MYBL2</i>")
cbar(226.7, 409, 277.3, 419.3, PURPLE, 0, 1.82, [0, .5, 1, 1.5], ["0", "0.5", "1.0", "1.5"])
T(396.7, 392.3, "Sum log<sub>2</sub> expr."); T(396.7, 401.7, "<i>MYBL2-targets</i>")
cbar(372.3, 409, 422.3, 419.3, PURPLE, 0, 24.8, [0, 5, 10, 15, 20], ["0", "", "10", "", "20"])
T(253, 547, "UMAP 1"); T(398, 547, "UMAP 1")
T(170, 475, "UMAP 2", rot=-90); T(315, 475, "UMAP 2", rot=-90)

# ================= panel f
fx, fy = new_axes(522.7, 425, 623.3, 525, [-.0283, .684], [-.17, 24.5],
                  xa=dict(frame(), **tick([0, .2, .4, .6], ["0", "0.2", "0.4", "0.6"])), ya=dict(frame(), **tick([0, 5, 10, 15, 20])))
fig.add_trace(go.Scatter(x=F_X, y=F_Y, mode="markers", xaxis=fx, yaxis=fy, marker=dict(size=5, color=CLUSTER_HUES), hoverinfo="skip", cliponaxis=False))
T(549.3, 436.3, "Spearman's"); T(549.3, 444.3, "cor = 0.670 5")
T(487.7, 475, "Sum log<sub>2</sub> <i>MYBL2-targets</i>", rot=-90); T(497.3, 475, "average cluster expression", rot=-90)
T(573, 549, "Log<sub>2</sub> <i>MYBL2</i>"); T(573, 558.3, "average cluster expression")
for c in range(19):
    ly = 426.7 + 5.31*c
    fig.add_trace(go.Scatter(x=[630], y=[ly], mode="markers", xaxis=PX, yaxis=PY, marker=dict(size=4.6, color=CLUSTER_HUES[c]), hoverinfo="skip"))
    T(635, ly, str(c), size=5, anchor="left")

# ================= panel g
gx, gy = new_axes(40.7, 595.7, 140.7, 696, [-15.7, 350], [-.4786, .1727],
                  xa=dict(frame("#777"), **tick([0, 100, 200, 300])), ya=dict(frame("#777"), **tick([0, -.2, -.4], ["0", "−0.2", "−0.4"])))
L([-15.7, 350], [0, 0], "#222", .6, xa=gx, ya=gy)
for r in G_HITS:
    L([r, r], [-.037, .034], "#222", .6, xa=gx, ya=gy)
L(G_RANK, G_ES, "#7cc854", 1, xa=gx, ya=gy)
T(7.3, 646, "Enrichment score", rot=-90)
T(87.3, 678.7, "<i>P</i>adj = 0.006 5")
T(146, 594.5, "26 network TFs with differential", anchor="left")
T(146, 604, "expression in scRNA-seq clusters", anchor="left")
for col_x, names in zip((147.5, 187.5, 222), (G_TF_1, G_TF_2, G_TF_3)):
    for i, n in enumerate(names):
        T(col_x, 615+7.07*i, "<i>"+n+"</i>", size=7, anchor="left")
RANK_SCALE = [[0,"#3a55a8"],[.2,"#a8c8ea"],[.42,"#ffffff"],[.75,"#fbd5c5"],[.95,"#f0806a"],[1,"#e8403a"]]
cbar(43.3, 713.7, 136.7, 724.3, RANK_SCALE, 0, 1, [], [])
T(90, 731.3, "Ranked cor TF~targets")
T(188, 696.7, "Spearman's"); T(188, 705.7, "correlation")
cbar(163.7, 713.7, 214, 724.3, [[0,"#2c4a9a"],[.5,"#ffffff"],[1,"#e8262a"]], -1, 1, [-1,-.75,-.5,-.25,0,.25,.5,.75,1], ["−1","","","","0","","","","1"])

# ================= panel h
R = 18
for a, b, curv, w, col in EDGES:
    ax_, ay_, bx_, by_ = NODE_X[a], NODE_Y[a], NODE_X[b], NODE_Y[b]
    ddx, ddy = bx_-ax_, by_-ay_
    cx_, cy_ = (ax_+bx_)/2+curv*ddy, (ay_+by_)/2-curv*ddx
    t = np.linspace(0, 1, 80)
    xs = (1-t)**2*ax_+2*(1-t)*t*cx_+t**2*bx_
    ys = (1-t)**2*ay_+2*(1-t)*t*cy_+t**2*by_
    keep = (np.hypot(xs-ax_, ys-ay_) > R) & (np.hypot(xs-bx_, ys-by_) > R+.5)
    xs, ys = xs[keep], ys[keep]
    sizes = [0]*(len(xs)-1)+[4+w*2]
    fig.add_trace(go.Scatter(x=xs, y=ys, mode="lines+markers", xaxis=PX, yaxis=PY, line=dict(color=col, width=w, simplify=False),
                             marker=dict(symbol="arrow", size=sizes, color=col, angleref="previous", line=dict(width=0)), hoverinfo="skip"))
for n, lx, ly, r, w, col in LOOPS:
    th = np.radians(np.arange(0, 360, 4))
    xs, ys = lx+r*np.cos(th), ly+r*np.sin(th)
    out = np.hypot(xs-NODE_X[n], ys-NODE_Y[n]) > R+.3
    start = int(np.argmax(out & ~np.roll(out, 1)))
    xs, ys, out = np.roll(xs, -start), np.roll(ys, -start), np.roll(out, -start)
    xs, ys = xs[out], ys[out]
    sizes = [0]*(len(xs)-1)+[4+w*2]
    fig.add_trace(go.Scatter(x=xs, y=ys, mode="lines+markers", xaxis=PX, yaxis=PY, line=dict(color=col, width=w, simplify=False),
                             marker=dict(symbol="arrow", size=sizes, color=col, angleref="previous", line=dict(width=0)), hoverinfo="skip"))
for c in range(1, 9):
    cx_, cy_ = NODE_X[c], NODE_Y[c]
    fig.add_trace(go.Scatter(x=[cx_], y=[cy_], mode="markers", xaxis=PX, yaxis=PY,
                             marker=dict(size=36, color="white", line=dict(color="#111", width=.9)), hoverinfo="skip"))
    px_ = [cx_+(-43+87*t/9)/3 for t in PROFILE_TIME]
    py_ = [cy_+v/3 for v in PROFILES[c]]
    L(px_, py_, CLUSTER_COLORS[c], 7, opacity=.22)
    L(px_, py_, CLUSTER_COLORS[c], 4, opacity=.55)
    L(px_, py_, "#000000", 1.5)
    T(cx_+NODE_TEXT_DX[c], cy_+NODE_TEXT_DY[c], str(c), size=7.5)
T(645, 818.3, "Log<sub>2</sub> enrichment", size=7.5)
cbar(620, 827.3, 670.7, 837.3, [[0,"#ffffff"],[1,"#000000"]], .04, .66, [.1,.2,.3,.4,.5,.6], ["0.1","","","","","0.6"])

# ================= panel i
bx, by = new_axes(65.3, 815, 131, 917.7, [-.76, 3.62], [0, 231.3], ya=dict(tick([0, 50, 100, 150, 200])))
bkw = dict(x=[0,1,2,3], width=.82, xaxis=bx, yaxis=by, hoverinfo="skip")
fig.add_trace(go.Bar(y=BAR_CAUSAL, marker=dict(color="#fbee9a", line=dict(width=0)), **bkw))
fig.add_trace(go.Bar(y=BAR_OVERLAP, marker=dict(color="#d3dc9c", line=dict(width=0)), **bkw))
fig.add_trace(go.Bar(y=BAR_CLUSTER4, marker=dict(color="#a5d0ec", line=dict(width=0)), **bkw))
fig.add_trace(go.Bar(y=BAR_TOTAL, marker=dict(color="rgba(0,0,0,0)", line=dict(width=.9, color="#444")), **bkw))
layout["barmode"] = "overlay"
L([-.76, -.76], [0, 200], "#555", .8, xa=bx, ya=by)
T(81, 784.3, "TF traget genes enriched for")
for sy_, col, name in [(794.7, "#fbee9a", "Causal eBMD"), (805.7, "#a5d0ec", "Cluster 4")]:
    poly([75, 89, 89, 75, 75], [sy_-3.5, sy_-3.5, sy_+3.5, sy_+3.5, sy_-3.5], col)
    T(92, sy_, name, anchor="left")
T(35.7, 875, "No. TFs", rot=-90)
T(58, 925.3, "Dynamic", anchor="right"); T(58, 936.3, "Causal eBMD", anchor="right")
for i in range(4):
    T(76.7+15*i, 925.3, SIGN_DYNAMIC[i]); T(76.7+15*i, 936.3, SIGN_CAUSAL[i])

sx, sy = new_axes(190.3, 817.7, 290.7, 917.7, [-.6, 15.6], [-3.98, 103.5],
                  xa=dict(frame(), **tick([0, 5, 10, 15])), ya=dict(frame(), **tick([0, 20, 40, 60, 80, 100])))
EBMD_SCALE = [[0,"#ffffff"],[.13,"#ffffff"],[.14,"#f0cfe6"],[.5,"#cf7fbf"],[1,"#8e1b8e"]]
def sc_px(x, y):
    return 194+6.2*x, 914-.93*y
for name, zx, zy, dx_, dy_ in zip(SC_NAMES, SC_NAME_X, SC_NAME_Y, SC_NAME_PX, SC_NAME_PY):
    lx, ly = 150+zx/3, 725+zy/3
    ex, ey = sc_px(dx_, dy_)
    L([ex, lx-6 if lx > ex else lx+6], [ey, ly], "#888", .35)
    T(lx, ly, name, size=4.2)
for yy, name, px_ in [(921.7, "HOXA10", 0), (928.7, "HOXA1", 1), (935.7, "HOXA4", 2)]:
    T(176, yy, name, size=7.3, anchor="right")
    L([177, sc_px(0, 0)[0]+px_*5], [yy, 915], "#888", .4)
fig.add_trace(go.Scatter(x=SC_X, y=SC_Y, mode="markers", xaxis=sx, yaxis=sy, cliponaxis=False, hoverinfo="skip",
                         marker=dict(size=5.2, color=SC_P, colorscale=EBMD_SCALE, cmin=0, cmax=66, line=dict(color="#333", width=.5))))
T(240.7, 798.3, "Target gene enrichment", size=7.8)
T(240.7, 808, "-log<sub>10</sub> <i>P</i>-value", size=7.8)
T(240.7, 941.7, "Causal eBMD genes", size=7.8)
T(160.7, 868, "Cluster 4 genes", rot=-90, size=7.8)
T(306, 875, "-Log<sub>10</sub> <i>P</i>-value eBMD", rot=-90, size=7.5)
cbar(315, 845, 325, 895.5, EBMD_SCALE, 0, 66, [0, 15, 30, 45, 60], ["0", "", "30", "", "60"], vertical=True)

# ================= panel letters
for letter, x, y in [("a",4.3,10),("b",332,10),("c",4.3,207),("d",5,393),("e",170.7,393),("f",485,392),("g",4.3,590),("h",347.7,588),("i",2.7,777.7)]:
    T(x, y, letter, size=14.5, color="#111", bold=True)

fig.update_layout(**layout)
fig.write_html("out.html", post_script="document.body.style.margin='0';", config=dict(displayModeBar=False))
